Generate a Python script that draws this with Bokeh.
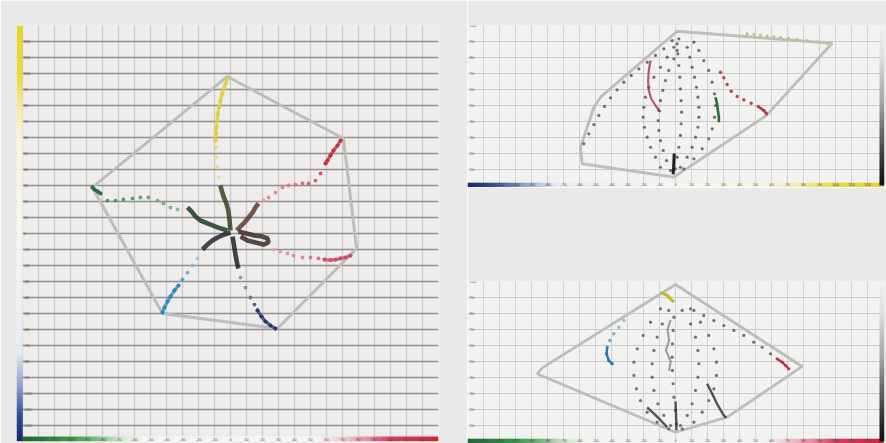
import numpy as np
from bokeh.plotting import figure
from bokeh.layouts import row, column
from bokeh.models import Grid, FixedTicker, LinearColorMapper
from bokeh.core.properties import value
from bokeh.embed import file_html
from bokeh.resources import INLINE

PAGE_BG = "#e9e9e7"
FONT = value("Liberation Sans")

# ---------------- ticks ----------------
ab_grid = list(range(-130, 131, 10))
ab_tick_labels = list(range(-120, 121, 10))
l_grid = list(range(0, 101, 10))
l_tick_labels = list(range(10, 101, 10))

# ---------------- a*b* plane ----------------
hull_ab_a = [-2.1, 70.6, 78.8, 29.4, -42.5, -86.3]
hull_ab_b = [98.1, 59.4, -9.4, -59.4, -50.0, 28.8]

yellow_core_a = [0.0, -0.4, -0.8, -1.4, -2.5, -4.2, -5.2, -6.3]
yellow_core_b = [1.9, 6.1, 10.2, 14.4, 18.6, 22.7, 25.8, 30.0]
yellow_mid_a = [-7.3, -8.3, -9.2, -9.4]
yellow_mid_b = [35.2, 41.4, 47.7, 53.9]
yellow_tip_a = [-9.4, -9.2, -8.8, -8.3, -7.9, -7.3, -6.3, -5.2, -4.2, -3.1, -2.1]
yellow_tip_b = [58.1, 62.3, 66.4, 70.6, 74.8, 78.9, 83.1, 87.3, 90.4, 93.6, 96.7]

red_core_a = [3.8, 6.3, 8.8, 11.3, 13.8, 15.6, 17.5]
red_core_b = [1.9, 4.4, 6.9, 10.0, 13.1, 16.3, 18.8]
red_mid_a = [20.6, 23.8, 28.1, 32.5, 36.3, 40.6, 45.0, 48.8, 53.1, 56.3]
red_mid_b = [20.6, 22.5, 25.6, 28.8, 30.0, 30.6, 31.3, 31.3, 33.1, 37.5]
red_tip_a = [59.4, 60.6, 62.5, 64.4, 66.9, 68.8]
red_tip_b = [43.8, 45.6, 48.8, 51.9, 55.0, 58.1]

pink_core_a = [5.0, 10.0, 15.0, 20.0, 23.1, 23.8, 20.6, 15.6, 10.6, 6.3]
pink_core_b = [1.3, 0.0, -1.3, -1.9, -3.1, -5.6, -6.9, -5.6, -4.4, -1.9]
pink_mid_a = [26.9, 31.3, 35.6, 39.4, 45.0, 50.0, 55.0]
pink_mid_b = [-10.0, -11.3, -12.5, -13.8, -15.0, -15.0, -15.6]
pink_tip_a = [58.8, 62.5, 65.6, 68.8, 71.9, 75.0]
pink_tip_b = [-16.3, -16.6, -16.3, -15.6, -15.0, -13.8]

blue_core_a = [1.3, 1.9, 2.5, 3.1, 3.8, 4.4, 5.0]
blue_core_b = [-1.9, -5.6, -9.4, -13.1, -16.9, -20.0, -21.9]
blue_mid_a = [6.3, 9.4, 12.5, 15.0]
blue_mid_b = [-27.5, -33.8, -40.0, -44.4]
blue_tip_a = [16.9, 19.4, 21.9, 25.0, 28.1]
blue_tip_b = [-48.1, -51.9, -55.0, -57.5, -59.4]

cyan_core_a = [0.0, -3.8, -8.1, -11.3, -14.4, -17.5]
cyan_core_b = [0.6, -0.6, -2.5, -4.4, -6.9, -10.0]
cyan_mid_a = [-20.6, -23.8, -26.9, -30.0]
cyan_mid_b = [-15.6, -20.0, -24.4, -28.8]
cyan_tip_a = [-32.5, -35.0, -37.5, -39.4, -41.3, -42.5]
cyan_tip_b = [-32.5, -35.6, -39.4, -42.5, -46.3, -49.4]

green_core_a = [-1.9, -8.1, -14.4, -18.8, -21.9, -24.4, -26.9]
green_core_b = [1.9, 3.8, 6.3, 8.1, 10.6, 13.8, 16.3]
green_mid_a = [-33.1, -37.5, -41.9, -45.6, -51.3, -56.3, -61.3, -66.9, -71.9, -76.9]
green_mid_b = [15.0, 16.3, 18.8, 20.6, 22.5, 22.5, 21.9, 21.3, 20.6, 20.6]
green_tip_a = [-81.3, -83.1, -85.0, -86.3]
green_tip_b = [25.0, 26.3, 27.5, 28.8]

# ---------------- b*L* plane ----------------
bl_hull_b = [1.0, 97.9, 56.9, -1.0, -58.3, -59.4, -51.0, -46.9]
bl_hull_L = [96.4, 88.9, 43.8, 5.2, 13.6, 23.9, 48.9, 55.2]

bl_arc1_b = [-57.3, -54.2, -51.0, -47.9, -44.4, -40.6, -36.5, -32.3, -27.7, -22.9, -17.7, -12.5, -7.3, -2.1]
bl_arc1_L = [26.1, 32.3, 38.1, 43.8, 49.4, 54.8, 59.8, 64.6, 68.8, 72.9, 77.1, 81.3, 85.4, 90.6]
bl_arc2_b = [-9.4, -12.5, -15.6, -17.7, -19.4, -20.2, -19.8, -18.8, -16.7, -13.5, -9.4, -5.2, -1.0, 2.1]
bl_arc2_L = [11.4, 17.7, 23.9, 30.2, 36.4, 42.7, 48.9, 55.2, 61.4, 67.7, 73.9, 80.2, 86.4, 91.7]
bl_arc3_b = [-3.1, -5.6, -7.7, -9.4, -10.4, -10.8, -10.4, -9.4, -7.9, -6.3, -4.2, -1.0, 1.0]
bl_arc3_L = [9.4, 15.6, 21.9, 28.1, 34.4, 40.6, 46.9, 53.1, 59.4, 65.6, 71.9, 79.2, 84.4]
bl_arc4_b = [0.0, 1.0, 2.1, 3.1, 3.5, 3.8, 3.5, 3.1, 2.7, 2.1, 1.5, 1.0]
bl_arc4_L = [10.4, 17.7, 23.9, 31.3, 38.6, 45.8, 53.1, 60.4, 67.7, 75.0, 82.3, 88.5]
bl_arc5_b = [3.1, 7.3, 10.4, 12.5, 14.0, 14.6, 14.6, 14.0, 13.1, 11.9, 10.4, 8.9, 7.3]
bl_arc5_L = [11.4, 17.7, 23.9, 30.2, 36.4, 42.7, 48.9, 55.2, 61.4, 67.7, 73.9, 80.2, 86.4]
bl_arc6_b = [5.2, 11.5, 16.7, 20.8, 22.9, 24.4, 25.0, 24.4, 22.9, 20.8, 17.7, 14.6, 11.5]
bl_arc6_L = [10.4, 16.7, 22.9, 29.2, 35.4, 42.7, 50.0, 57.3, 64.6, 71.9, 78.1, 84.4, 89.6]

bl_red_b = [28.1, 30.2, 32.3, 34.8, 38.5, 42.7, 47.3, 51.7, 55.2, 56.9]
bl_red_L = [70.8, 67.3, 63.1, 58.9, 55.6, 53.5, 51.4, 49.4, 46.9, 44.8]
bl_magenta_b = [-15.6, -16.7, -17.1, -16.7, -15.2, -12.5, -9.4]
bl_magenta_L = [78.1, 71.9, 65.6, 59.4, 54.2, 50.0, 45.8]
bl_green_b = [25.0, 26.0, 26.5, 27.1, 27.1]
bl_green_L = [55.2, 51.0, 46.9, 42.7, 39.6]
bl_yellow_b = [44.8, 49.0, 53.1, 57.3, 61.5, 65.6, 70.8, 76.0, 82.3, 88.5, 94.8]
bl_yellow_L = [94.8, 94.4, 94.0, 93.5, 93.1, 92.7, 92.1, 91.4, 90.6, 89.8, 88.9]
bl_black_b = [-1.5, -1.2, -1.0, -0.8]
bl_black_L = [7.0, 11.0, 15.0, 20.0]

# ---------------- a*L* plane ----------------
al_hull_a = [0.0, 79.2, 32.3, 0.0, -86.5, -83.3]
al_hull_L = [98.1, 46.9, 15.2, 5.8, 42.3, 46.0]

al_arc1_a = [-9.4, -15.6, -20.2, -23.9, -26.0, -26.0, -24.4, -21.9, -17.7, -11.5, -4.2]
al_arc1_L = [82.9, 74.6, 66.3, 57.9, 49.6, 41.3, 32.9, 25.6, 18.3, 12.1, 7.9]
al_arc2_a = [-4.2, -8.3, -11.5, -13.5, -14.6, -14.6, -13.5, -11.0, -7.3, -3.1]
al_arc2_L = [81.9, 73.5, 65.2, 56.9, 48.6, 40.2, 31.9, 23.6, 16.3, 10.0]
al_arc3_a = [-1.0, -1.5, -1.9, -2.1, -1.9, -1.5, -1.0, 0.0, 0.6]
al_arc3_L = [77.7, 69.4, 61.1, 52.7, 44.4, 36.1, 27.7, 19.4, 11.1]
al_arc4_a = [4.2, 9.4, 12.5, 14.0, 14.6, 14.0, 12.5, 10.4, 7.3, 3.1]
al_arc4_L = [81.9, 73.5, 65.2, 56.9, 48.6, 40.2, 31.9, 23.6, 16.3, 10.0]
al_arc5_a = [9.4, 15.6, 20.8, 24.0, 25.6, 25.6, 24.0, 20.8, 16.7, 11.5, 4.2]
al_arc5_L = [82.9, 74.6, 66.3, 57.9, 49.6, 41.3, 32.9, 25.6, 18.3, 12.1, 7.9]

al_cyan_a = [-29.2, -32.3, -35.4, -38.5, -41.0, -42.7, -43.1, -41.7, -39.6]
al_cyan_L = [79.8, 75.6, 71.4, 67.3, 63.1, 59.0, 54.8, 50.6, 48.6]
al_yellow_a = [-9.4, -7.3, -5.2, -3.1, -1.0]
al_yellow_L = [93.3, 92.3, 91.3, 89.2, 87.1]
al_red_a = [11.5, 17.7, 24.0, 30.2, 36.5, 42.7, 48.9, 54.2, 59.4, 63.5, 66.7, 68.8, 70.8]
al_red_L = [81.9, 78.8, 75.6, 72.5, 69.4, 66.3, 62.1, 58.9, 54.8, 51.7, 49.6, 47.5, 45.4]
al_dark1_a = [19.8, 21.9, 24.0, 26.0, 28.1, 30.2, 31.7]
al_dark1_L = [36.1, 31.9, 27.7, 23.5, 19.8, 16.3, 14.8]
al_dark2_a = [0.0, 0.3, 0.5, 0.6]
al_dark2_L = [25.0, 18.0, 12.0, 7.0]
al_dark3_a = [-17.7, -13.0, -9.0, -5.2]
al_dark3_L = [21.4, 17.0, 13.0, 8.9]
al_gray_a = [-3.0, -5.0, -4.0, -6.0, -3.0, -4.0]
al_gray_L = [76.0, 70.0, 63.0, 57.0, 50.0, 44.0]


# ---------------- helpers ----------------
def hex_rgb(c):
    c = c.lstrip("#")
    return [int(c[i:i + 2], 16) for i in (0, 2, 4)]


def mix(c1, c2, t):
    a, b = hex_rgb(c1), hex_rgb(c2)
    return "#%02x%02x%02x" % tuple(int(round(a[i] + (b[i] - a[i]) * t)) for i in range(3))


def ramp(stops, n=256):
    pos = [s[0] for s in stops]
    rgb = np.array([hex_rgb(s[1]) for s in stops], dtype=float)
    xs = np.linspace(pos[0], pos[-1], n)
    chans = [np.interp(xs, pos, rgb[:, i]) for i in range(3)]
    return ["#%02x%02x%02x" % (int(r), int(g), int(b)) for r, g, b in zip(*chans)]


def colour_bar(p, stops, x, y, dw, dh, horizontal):
    lo, hi = stops[0][0], stops[-1][0]
    vals = np.linspace(lo, hi, 256)
    img = vals.reshape(1, -1) if horizontal else vals.reshape(-1, 1)
    mapper = LinearColorMapper(palette=ramp(stops), low=lo, high=hi)
    p.image(image=[img], x=x, y=y, dw=dw, dh=dh, color_mapper=mapper)


def panel(width, height, xr, yr, left, right, top, bottom, bg):
    p = figure(width=width, height=height, x_range=xr, y_range=yr, title=None,
               toolbar_location=None, output_backend="svg",
               x_axis_location=None, y_axis_location=None,
               background_fill_color=bg, border_fill_color=PAGE_BG,
               outline_line_color=None)
    p.min_border_left = left
    p.min_border_right = right
    p.min_border_top = top
    p.min_border_bottom = bottom
    return p


# colour stops for the axis bars
green_red_stops = [(-130, "#1e6a30"), (-100, "#3a9a4a"), (-85, "#72b87a"), (-70, "#cfe6cf"),
                   (-55, "#f4f6f2"), (55, "#f6f4f4"), (70, "#f0ccd4"), (85, "#e890a8"),
                   (100, "#d84060"), (130, "#c82838")]
blue_yellow_stops = [(-130, "#1a2870"), (-115, "#2c4a98"), (-95, "#8ea4d0"), (-75, "#e6eaf3"),
                     (0, "#f6f6f2"), (60, "#f8f4dc"), (80, "#f4e8a0"), (98, "#eadb48"),
                     (130, "#e6d42c")]
lightness_stops = [(0, "#101010"), (20, "#404040"), (50, "#a0a0a0"), (80, "#dedede"),
                   (100, "#f2f2f2")]

# ================= a*b* panel =================
p_ab = panel(467, 443, (-133.75, 130), (-130, 130), 16, 29, 25, 2, "#efedec")
p_ab.add_layout(Grid(dimension=0, ticker=FixedTicker(ticks=ab_grid),
                     grid_line_color="#cbc8c8", grid_line_width=1.3))
p_ab.add_layout(Grid(dimension=1, ticker=FixedTicker(ticks=ab_grid),
                     grid_line_color="#8e8e8e", grid_line_width=1.6))

p_ab.patch(hull_ab_a + hull_ab_a[:1], hull_ab_b + hull_ab_b[:1], fill_color=None,
           line_color="#bdbdbd", line_width=3)

arms = [
    (yellow_core_a, yellow_core_b, yellow_mid_a, yellow_mid_b, yellow_tip_a, yellow_tip_b,
     "#3a3e1e", "#ebe6b8", "#ddd040"),
    (red_core_a, red_core_b, red_mid_a, red_mid_b, red_tip_a, red_tip_b,
     "#5a3a32", "#e4a8a8", "#c83040"),
    (pink_core_a, pink_core_b, pink_mid_a, pink_mid_b, pink_tip_a, pink_tip_b,
     "#3a2c2c", "#ecb4c4", "#d04a6c"),
    (blue_core_a, blue_core_b, blue_mid_a, blue_mid_b, blue_tip_a, blue_tip_b,
     "#1e2228", "#a8b0c8", "#2a3878"),
    (cyan_core_a, cyan_core_b, cyan_mid_a, cyan_mid_b, cyan_tip_a, cyan_tip_b,
     "#1e2a2a", "#a8d4e4", "#2a88c0"),
    (green_core_a, green_core_b, green_mid_a, green_mid_b, green_tip_a, green_tip_b,
     "#1e3a28", "#96c4a4", "#2a6e44"),
]
for ca, cb, ma, mb, ta, tb, dark, pale, full in arms:
    p_ab.line(ca, cb, line_color=dark, line_width=4.6, line_alpha=0.85)
    n = len(ma)
    mid_cols = [mix(pale, full, 0.15 + 0.5 * i / max(n - 1, 1)) for i in range(n)]
    p_ab.scatter(ma, mb, size=3.8, fill_color=mid_cols, line_color=None)
    p_ab.line(ta, tb, line_color=full, line_width=3.2, line_alpha=0.8)
    p_ab.scatter(ta, tb, size=4.2, fill_color=full, line_color=None)

colour_bar(p_ab, blue_yellow_stops, -133.75, -130, 3.9, 260, False)
colour_bar(p_ab, green_red_stops, -130, -130, 260, 3.1, True)

p_ab.text(x=[-129.2] * len(ab_tick_labels), y=ab_tick_labels,
          text=[str(v) for v in ab_tick_labels], text_font=FONT, text_font_size="4px",
          text_color="#555555", text_align="left", text_baseline="middle")
p_ab.text(x=ab_tick_labels, y=[-128.5] * len(ab_tick_labels),
          text=[str(v) for v in ab_tick_labels], text_font=FONT, text_font_size="4px",
          text_color="#444444", text_align="center", text_baseline="middle")


# ================= L* panels =================
def lightness_panel(top, height, hull_x, hull_y, bottom_stops):
    p = panel(419, height, (-130, 130.625), (-1.25, 100), 0, 2, top, 0, "#f2f2f0")
    p.add_layout(Grid(dimension=0, ticker=FixedTicker(ticks=ab_grid),
                      grid_line_color="#d2d2d2", grid_line_width=1))
    p.add_layout(Grid(dimension=1, ticker=FixedTicker(ticks=l_grid),
                      grid_line_color="#cacaca", grid_line_width=1))
    p.patch(hull_x + hull_x[:1], hull_y + hull_y[:1], fill_color=None,
            line_color="#bdbdbd", line_width=2.8)
    colour_bar(p, bottom_stops, -130, -1.25, 260, 3.0, True)
    colour_bar(p, lightness_stops, 127.5, 0, 3.1, 100, False)
    p.text(x=[-128.6] * len(l_tick_labels), y=l_tick_labels,
           text=[str(v) for v in l_tick_labels], text_font=FONT, text_font_size="4px",
           text_color="#555555", text_align="left", text_baseline="middle")
    p.text(x=ab_tick_labels, y=[0.4] * len(ab_tick_labels),
           text=[str(v) for v in ab_tick_labels], text_font=FONT, text_font_size="4px",
           text_color="#444444", text_align="center", text_baseline="middle")
    return p


p_bl = lightness_panel(25, 187, bl_hull_b, bl_hull_L, blue_yellow_stops)
for xs, ys in [(bl_arc1_b, bl_arc1_L), (bl_arc2_b, bl_arc2_L), (bl_arc3_b, bl_arc3_L),
               (bl_arc4_b, bl_arc4_L), (bl_arc5_b, bl_arc5_L), (bl_arc6_b, bl_arc6_L)]:
    p_bl.scatter(xs, ys, size=3.2, fill_color="#505050", fill_alpha=0.8, line_color=None)
p_bl.line(bl_magenta_b, bl_magenta_L, line_color="#a83050", line_width=2.2, line_alpha=0.8)
p_bl.scatter(bl_red_b, bl_red_L, size=3.4, fill_color="#c04050", line_color=None)
p_bl.line(bl_red_b[-3:], bl_red_L[-3:], line_color="#c03040", line_width=2.5)
p_bl.line(bl_green_b, bl_green_L, line_color="#2a6a40", line_width=2.6)
p_bl.scatter(bl_yellow_b, bl_yellow_L, size=3, fill_color="#c8c070", line_color=None)
p_bl.line(bl_black_b, bl_black_L, line_color="#202020", line_width=3)

p_al = lightness_panel(94, 256, al_hull_a, al_hull_L, green_red_stops)
for xs, ys in [(al_arc1_a, al_arc1_L), (al_arc2_a, al_arc2_L), (al_arc3_a, al_arc3_L),
               (al_arc4_a, al_arc4_L), (al_arc5_a, al_arc5_L)]:
    p_al.scatter(xs, ys, size=3.2, fill_color="#505050", fill_alpha=0.8, line_color=None)
cyan_cols = [mix("#a8d0e0", "#2a78b0", i / (len(al_cyan_a) - 1)) for i in range(len(al_cyan_a))]
p_al.scatter(al_cyan_a, al_cyan_L, size=3.4, fill_color=cyan_cols, line_color=None)
p_al.line(al_cyan_a[-4:], al_cyan_L[-4:], line_color="#2a78b0", line_width=2.4)
p_al.line(al_yellow_a, al_yellow_L, line_color="#c8b830", line_width=3.2)
red_cols = [mix("#707070", "#c83048", max(0.0, (i - 8) / 4)) for i in range(len(al_red_a))]
p_al.scatter(al_red_a, al_red_L, size=3.2, fill_color=red_cols, line_color=None)
p_al.line(al_red_a[-4:], al_red_L[-4:], line_color="#c83048", line_width=2.4)
for xs, ys in [(al_dark1_a, al_dark1_L), (al_dark2_a, al_dark2_L), (al_dark3_a, al_dark3_L)]:
    p_al.line(xs, ys, line_color="#2a2a2a", line_width=2.4, line_alpha=0.8)
p_al.line(al_gray_a, al_gray_L, line_color="#807070", line_width=2, line_alpha=0.7)

layout = row(p_ab, column(p_bl, p_al))
open("out.html", "w").write(file_html(layout, INLINE))
